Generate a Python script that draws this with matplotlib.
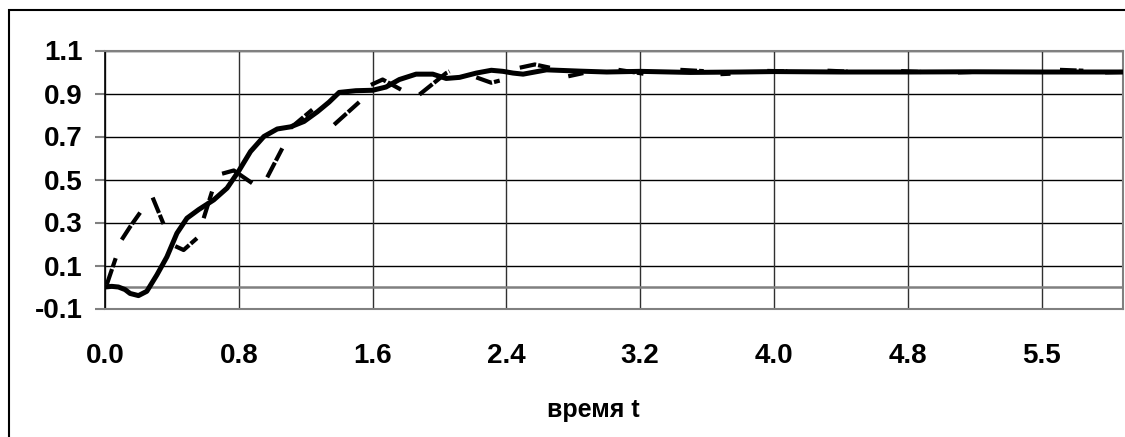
import numpy as np
import matplotlib
matplotlib.use("Agg")
import matplotlib.pyplot as plt
from matplotlib.patches import Rectangle

plt.rcParams['font.family'] = ['Liberation Sans', 'DejaVu Sans']

# Solid series (response)
solid_t = [0, 0.04, 0.08, 0.12, 0.15, 0.2, 0.25, 0.31, 0.37, 0.43, 0.49, 0.56, 0.65,
           0.73, 0.80, 0.87, 0.95, 1.03, 1.11, 1.19, 1.27, 1.34, 1.40, 1.50, 1.60,
           1.68, 1.76, 1.86, 1.96, 2.04, 2.12, 2.22, 2.31, 2.38, 2.44, 2.50, 2.64,
           2.84, 3.0, 3.2, 3.5, 3.8, 4.0, 4.4, 4.8, 5.2, 5.6, 6.1]
solid_y = [0.0, 0.003, 0.0, -0.012, -0.03, -0.04, -0.02, 0.056, 0.14, 0.25, 0.32,
           0.36, 0.405, 0.46, 0.54, 0.63, 0.70, 0.735, 0.745, 0.77, 0.815, 0.86,
           0.905, 0.913, 0.915, 0.93, 0.965, 0.99, 0.99, 0.97, 0.975, 0.995, 1.008,
           1.003, 0.995, 0.99, 1.01, 1.004, 1.0, 1.003, 0.998, 1.0, 1.002, 1.0,
           1.0, 1.001, 1.0, 1.0]

# Dashed series (visible dash fragments, NaN separates fragments)
nan = np.nan
dash_t = [0.01, 0.064, nan, 0.10, 0.15, 0.21, nan, 0.285, 0.35, nan,
          0.42, 0.47, 0.55, nan, 0.59, 0.64, nan, 0.70, 0.77, 0.88, nan,
          0.97, 1.06, nan, 1.11, 1.24, nan, 1.37, 1.52, nan,
          1.59, 1.66, 1.77, nan, 1.88, 2.04, 2.06, nan, 2.22, 2.31, 2.36, nan,
          2.48, 2.57, 2.66, nan, 2.77, 2.86, nan, 3.07, 3.22, nan, 3.44, 3.58, nan,
          3.68, 3.74, nan, 3.96, 4.08, nan, 4.32, 4.44, nan, 4.76, 4.88, nan,
          5.10, 5.18, nan, 5.71, 5.85, nan, 5.98, 6.08]
dash_y = [0.01, 0.134, nan, 0.22, 0.28, 0.346, nan, 0.416, 0.293, nan,
          0.19, 0.172, 0.227, nan, 0.32, 0.444, nan, 0.527, 0.542, 0.483, nan,
          0.51, 0.645, nan, 0.74, 0.825, nan, 0.755, 0.86, nan,
          0.94, 0.965, 0.918, nan, 0.895, 0.995, 1.003, nan, 0.975, 0.95, 0.96, nan,
          1.02, 1.035, 1.02, nan, 0.98, 0.995, nan, 1.01, 0.992, nan, 1.01, 1.004, nan,
          0.99, 0.992, nan, 1.005, 1.003, nan, 1.006, 1.002, nan, 1.004, 1.0, nan,
          0.998, 1.0, nan, 1.01, 1.006, nan, 0.998, 1.0]

x_ticks = [0.0, 0.8, 1.6, 2.4, 3.2, 4.0, 4.8, 5.6]
x_labels = ["0.0", "0.8", "1.6", "2.4", "3.2", "4.0", "4.8", "5.5"]
y_ticks = [-0.1, 0.1, 0.3, 0.5, 0.7, 0.9, 1.1]
y_labels = ["-0.1", "0.1", "0.3", "0.5", "0.7", "0.9", "1.1"]

W, H = 1125, 437
fig = plt.figure(figsize=(W / 100, H / 100), dpi=100)
fig.patches.append(Rectangle((9 / W, -0.1), 1.2, 1 - 10 / H + 0.1,
                             transform=fig.transFigure, fill=False,
                             edgecolor='black', linewidth=1.5))

ax = fig.add_axes([105 / W, 1 - 308.5 / H, (1123 - 105) / W, (308.5 - 50.5) / H])
ax.set_xlim(0, 6.087)
ax.set_ylim(-0.1, 1.1)

for yv in y_ticks:
    ax.axhline(yv, color='black', lw=1.0, zorder=1)
for xv in x_ticks:
    ax.axvline(xv, color='#303030', lw=1.0, zorder=1)
ax.axhline(0, color='#808080', lw=1.8, zorder=1)

ax.plot(dash_t, dash_y, color='black', lw=3.0, linestyle=(0, (4.0, 0.5)),
        solid_capstyle='butt', dash_capstyle='butt', zorder=3)
ax.plot(solid_t, solid_y, color='black', lw=3.6, solid_joinstyle='round',
        solid_capstyle='round', zorder=4)

for s in ['top', 'right', 'bottom']:
    ax.spines[s].set_color('#808080')
    ax.spines[s].set_linewidth(1.5)
ax.spines['left'].set_color('black')
ax.spines['left'].set_linewidth(1.2)

ax.set_yticks(y_ticks)
ax.set_yticklabels(y_labels, fontsize=20, fontweight='bold')
ax.set_xticks(x_ticks)
ax.set_xticklabels(x_labels, fontsize=20, fontweight='bold')
ax.tick_params(axis='y', length=7, width=1.5, color='#808080', pad=9)
ax.tick_params(axis='x', length=0, pad=25)

fig.text(593 / W, 1 - 410 / H, "время t", fontsize=18, fontweight='bold',
         ha='center', va='center')

fig.savefig("out.png", dpi=100)
